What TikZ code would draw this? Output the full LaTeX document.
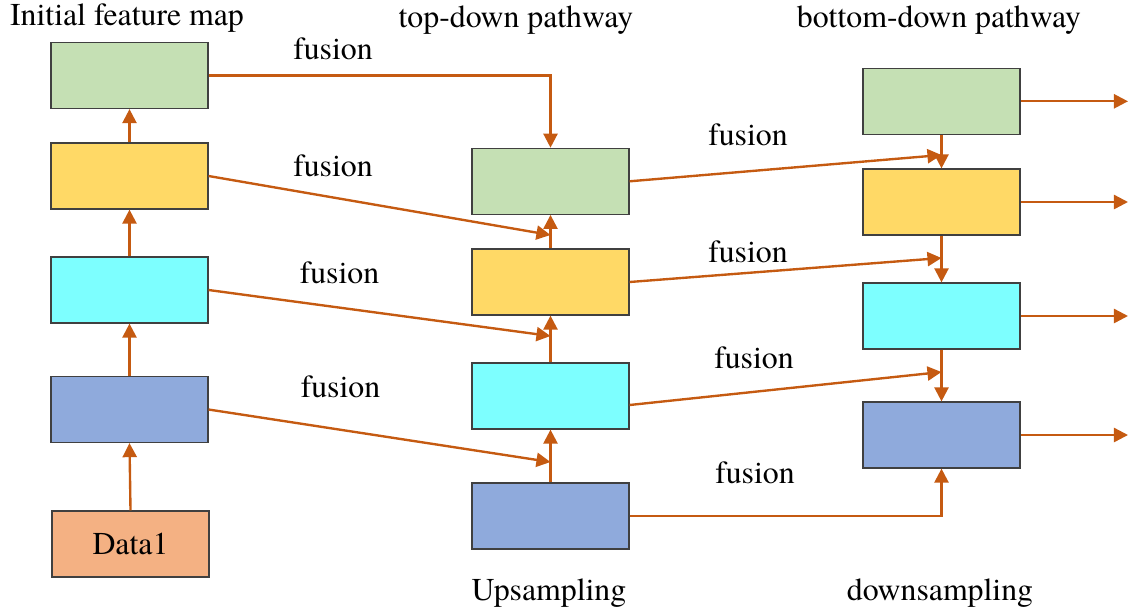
\documentclass[tikz,border=0pt]{standalone}
\usepackage{fontspec}
\setmainfont{texgyretermes}[Extension=.otf,UprightFont=*-regular,BoldFont=*-bold,ItalicFont=*-italic]
\usetikzlibrary{arrows.meta}
\definecolor{fgreen}{HTML}{C5E0B4}
\definecolor{fyellow}{HTML}{FFD966}
\definecolor{fcyan}{HTML}{7DFFFF}
\definecolor{fblue}{HTML}{8FAADC}
\definecolor{forange}{HTML}{F4B183}
\definecolor{flink}{HTML}{C55A11}
\definecolor{fedge}{HTML}{404040}

\begin{document}
\begin{tikzpicture}[x=0.02cm,y=-0.02cm,
	box/.style={draw=fedge,line width=0.7pt,minimum width=3.14cm,minimum height=1.32cm,inner sep=0pt},
	link/.style={draw=flink,line width=1.35pt,-{Triangle[length=8pt,width=8pt]}},
	lbl/.style={anchor=base,font=\fontsize{18.1}{20}\selectfont}]
	\useasboundingbox (0,0) rectangle (1129,613);
	% initial feature maps
	\node [box,fill=fgreen] (l1) at (129.5,75.5) {};
	\node [box,fill=fyellow] (l2) at (129.5,176) {};
	\node [box,fill=fcyan] (l3) at (129.5,290) {};
	\node [box,fill=fblue] (l4) at (129.5,409.5) {};
	\node [box,fill=forange,font=\fontsize{18.1}{20}\selectfont] (d1) at (130.5,544) {Data1};
	% top-down pathway
	\node [box,fill=fgreen] (m1) at (550.5,181.3) {};
	\node [box,fill=fyellow] (m2) at (550.5,282) {};
	\node [box,fill=fcyan] (m3) at (550.5,396) {};
	\node [box,fill=fblue] (m4) at (550.5,516) {};
	% bottom-down pathway
	\node [box,fill=fgreen] (r1) at (941.5,101.3) {};
	\node [box,fill=fyellow] (r2) at (941.5,202) {};
	\node [box,fill=fcyan] (r3) at (941.5,316) {};
	\node [box,fill=fblue] (r4) at (941.5,435) {};
	% where the fusion lines meet the vertical arrows
	\coordinate (t1) at (550.5,235);
	\coordinate (t2) at (550.5,336);
	\coordinate (t3) at (550.5,462);
	\coordinate (s1) at (941.5,155);
	\coordinate (s2) at (941.5,258);
	\coordinate (s3) at (941.5,372);
	\coordinate (out) at (1128,0);
	% vertical arrows
	\draw [link] (d1.north) -- (l4.south);
	\draw [link] (l4) -- (l3);
	\draw [link] (l3) -- (l2);
	\draw [link] (l2) -- (l1);
	\draw [link] (m4) -- (m3);
	\draw [link] (m3) -- (m2);
	\draw [link] (m2) -- (m1);
	\draw [link] (r1) -- (r2);
	\draw [link] (r2) -- (r3);
	\draw [link] (r3) -- (r4);
	% fusion lines
	\draw [link] (l1.east) -| (m1.north);
	\draw [link] (l2.east) -- (t1);
	\draw [link] (l3.east) -- (t2);
	\draw [link] (l4.east) -- (t3);
	\draw [link] (m1.east) -- (s1);
	\draw [link] (m2.east) -- (s2);
	\draw [link] ([yshift=-0.18cm]m3.east) -- (s3);
	\draw [link] (m4.east) -| (r4.south);
	% outputs
	\draw [link] (r1.east) -- (r1.east -| out);
	\draw [link] (r2.east) -- (r2.east -| out);
	\draw [link] (r3.east) -- (r3.east -| out);
	\draw [link] (r4.east) -- (r4.east -| out);
	% labels
	\node [lbl] (f1) at (333,59) {fusion};
	\node [lbl] (f2) at (333,176) {fusion};
	\node [lbl] (f3) at (339.5,283) {fusion};
	\node [lbl] (f4) at (340.5,397) {fusion};
	\node [lbl] (f5) at (748,145) {fusion};
	\node [lbl] (f6) at (748,262) {fusion};
	\node [lbl] (f7) at (754,368) {fusion};
	\node [lbl] (f8) at (755,483) {fusion};
	\node [lbl] (h1) at (127,25) {Initial feature map};
	\node [lbl] (h2) at (516,27) {top-down pathway};
	\node [lbl] (h3) at (939,27) {bottom-down pathway};
	\node [lbl] (h4) at (549,600) {Upsampling};
	\node [lbl] (h5) at (940,600) {downsampling};
\end{tikzpicture}
\end{document}
